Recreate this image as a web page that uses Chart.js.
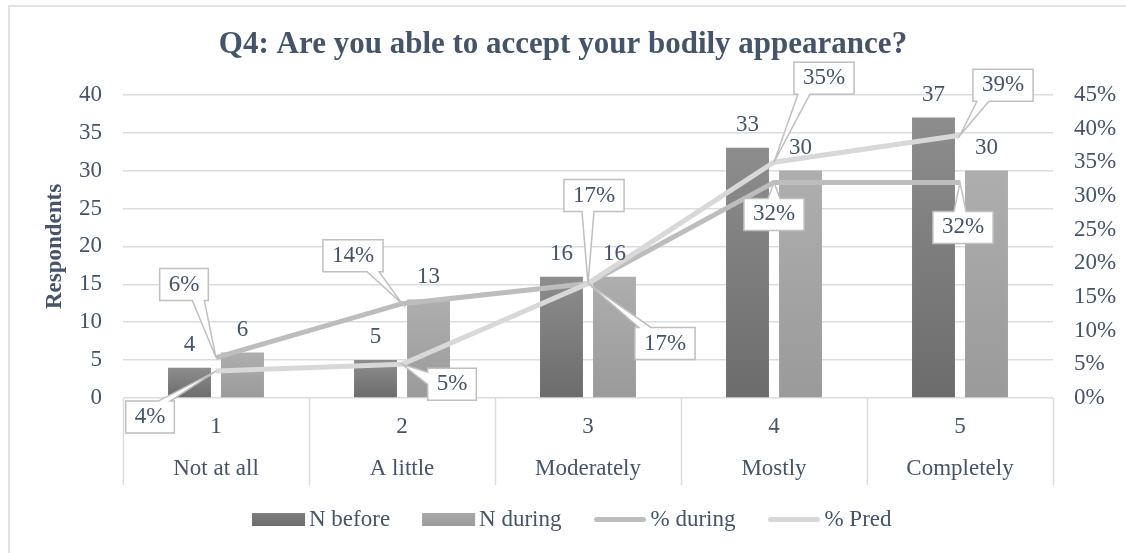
<!DOCTYPE html>
<html>
<head>
<meta charset="utf-8">
<script src="https://cdn.jsdelivr.net/npm/chart.js@4.4.1/dist/chart.umd.min.js"></script>
<style>
  html, body { margin: 0; padding: 0; background: #fff; }
  #wrap { position: relative; width: 1126px; height: 553px; }
</style>
</head>
<body>
<div id="wrap"><canvas id="q4Chart"></canvas></div>
<script>
// answer scale (two-level x axis)
const scalePoints = ['1', '2', '3', '4', '5'];
const answers = ['Not at all', 'A little', 'Moderately', 'Mostly', 'Completely'];

// respondent counts
const nBefore = [4, 5, 16, 33, 37];
const nDuring = [6, 13, 16, 30, 30];

// shares in percent (right axis)
const pctDuring = [6, 14, 17, 32, 32];
const pctPred = [4, 5, 17, 35, 39];

const countAxis = { min: 0, max: 40, step: 5 };
const pctAxis = { min: 0, max: 45, step: 5 };

// callout box centre relative to its point, px
const duringCallouts = [[-32, -73], [-49, -48], [6, -88], [0, 32], [3, 45]];
const predCallouts = [[-66, 46], [50, 20], [77, 60], [50, -84], [43, -50]];

const FONT = '"Liberation Serif", "Times New Roman", serif';
const INK = '#44546a';
const GRID = '#d9dde3';

Chart.defaults.font.family = FONT;
Chart.defaults.font.size = 23;
Chart.defaults.color = INK;

// vertical gradient for each bar, from its top down to the baseline
function barShade(topColor, bottomColor) {
    return (ctx) => {
        const chart = ctx.chart;
        if (ctx.type !== 'data' || !chart.chartArea) return bottomColor;
        const y = chart.scales.y;
        const top = y.getPixelForValue(ctx.parsed.y);
        const base = y.getPixelForValue(0);
        if (!(base > top)) return topColor;
        const g = chart.ctx.createLinearGradient(0, top, 0, base);
        g.addColorStop(0, topColor);
        g.addColorStop(1, bottomColor);
        return g;
    };
}

function drawCallout(ctx, px, py, cx, cy, text) {
    const w = ctx.measureText(text).width + 18;
    const h = 32;
    const l = cx - w / 2, r = cx + w / 2, t = cy - h / 2, b = cy + h / 2;
    const rx = (px - cx) / (w / 2), ry = (py - cy) / (h / 2);
    const half = 6;
    const ax = Math.min(Math.max(px, l + 10), r - 10);
    const ay = Math.min(Math.max(py, t + 10), b - 10);
    const vertical = Math.abs(ry) >= Math.abs(rx);
    const pts = [[l, t]];
    if (vertical && ry < 0) pts.push([ax - half, t], [px, py], [ax + half, t]);
    pts.push([r, t]);
    if (!vertical && rx > 0) pts.push([r, ay - half], [px, py], [r, ay + half]);
    pts.push([r, b]);
    if (vertical && ry > 0) pts.push([ax + half, b], [px, py], [ax - half, b]);
    pts.push([l, b]);
    if (!vertical && rx < 0) pts.push([l, ay + half], [px, py], [l, ay - half]);

    ctx.beginPath();
    pts.forEach(([x, y], i) => i ? ctx.lineTo(x, y) : ctx.moveTo(x, y));
    ctx.closePath();
    ctx.fillStyle = '#ffffff';
    ctx.fill();
    ctx.lineWidth = 1.5;
    ctx.strokeStyle = '#bfbfbf';
    ctx.stroke();
    ctx.fillStyle = INK;
    ctx.fillText(text, cx, cy);
}

/* =========================
   plugins
========================= */
const chartFrame = {
    id: 'chartFrame',
    beforeDraw(chart) {
        const { ctx, width, height } = chart;
        ctx.save();
        ctx.fillStyle = '#ffffff';
        ctx.fillRect(0, 0, width, height);
        ctx.strokeStyle = '#dfe2e7';
        ctx.lineWidth = 2;
        ctx.beginPath();
        ctx.moveTo(9, height);
        ctx.lineTo(9, 6);
        ctx.lineTo(width, 6);
        ctx.stroke();
        ctx.restore();
    }
};

// category separators below the plot
const categoryDividers = {
    id: 'categoryDividers',
    beforeDatasetsDraw(chart) {
        const { ctx, scales: { x }, chartArea } = chart;
        ctx.save();
        ctx.strokeStyle = GRID;
        ctx.lineWidth = 1.5;
        ctx.beginPath();
        for (let i = 0; i <= x.ticks.length; i++) {
            const px = Math.round(x.getPixelForValue(i - 0.5)) + 0.5;
            ctx.moveTo(px, chartArea.bottom);
            ctx.lineTo(px, chartArea.bottom + 87);
        }
        ctx.stroke();
        ctx.restore();
    }
};

const valueLabels = {
    id: 'valueLabels',
    afterDatasetsDraw(chart) {
        const { ctx } = chart;
        ctx.save();
        ctx.font = `23px ${FONT}`;
        ctx.textAlign = 'center';
        ctx.textBaseline = 'middle';
        chart.data.datasets.forEach((ds, i) => {
            if (ds.type !== 'bar') return;
            ctx.fillStyle = INK;
            chart.getDatasetMeta(i).data.forEach((bar, j) => ctx.fillText(String(ds.data[j]), bar.x, bar.y - 23));
        });
        chart.data.datasets.forEach((ds, i) => {
            if (ds.type === 'bar') return;
            chart.getDatasetMeta(i).data.forEach((pt, j) => {
                const [dx, dy] = ds.callouts[j];
                drawCallout(ctx, pt.x, pt.y, pt.x + dx, pt.y + dy, ds.data[j] + '%');
            });
        });
        ctx.restore();
    }
};

const bottomLegend = {
    id: 'bottomLegend',
    afterDraw(chart) {
        const { ctx } = chart;
        const y = 519.5;
        let x = 252;
        ctx.save();
        ctx.font = `23px ${FONT}`;
        ctx.textBaseline = 'middle';
        chart.data.datasets.forEach((ds) => {
            if (ds.type === 'bar') {
                const g = ctx.createLinearGradient(0, y - 6.5, 0, y + 6.5);
                g.addColorStop(0, ds.swatch[0]);
                g.addColorStop(1, ds.swatch[1]);
                ctx.fillStyle = g;
                ctx.fillRect(x, y - 6.5, 53, 13);
            } else {
                ctx.strokeStyle = ds.borderColor;
                ctx.lineWidth = 5;
                ctx.lineCap = 'round';
                ctx.beginPath();
                ctx.moveTo(x + 3, y);
                ctx.lineTo(x + 50, y);
                ctx.stroke();
            }
            x += 57;
            ctx.fillStyle = INK;
            ctx.fillText(ds.label, x, y);
            x += ctx.measureText(ds.label).width + 32;
        });
        ctx.restore();
    }
};

/* =========================
   chart
========================= */
new Chart(document.getElementById('q4Chart'), {
    type: 'bar',
    data: {
        labels: scalePoints.map((s, i) => [s, answers[i]]),
        datasets: [
            {
                type: 'bar', label: 'N before', data: nBefore, yAxisID: 'y',
                backgroundColor: barShade('#8d8d8d', '#6c6c6c'), swatch: ['#7e7e7e', '#6c6c6c'],
                categoryPercentage: 0.57, barPercentage: 0.81, order: 2
            },
            {
                type: 'bar', label: 'N during', data: nDuring, yAxisID: 'y',
                backgroundColor: barShade('#aeaeae', '#9a9a9a'), swatch: ['#a8a8a8', '#9a9a9a'],
                categoryPercentage: 0.57, barPercentage: 0.81, order: 2
            },
            {
                type: 'line', label: '% during', data: pctDuring, yAxisID: 'y1',
                borderColor: '#bdbdbd', borderWidth: 5, pointRadius: 0, order: 1,
                callouts: duringCallouts
            },
            {
                type: 'line', label: '% Pred', data: pctPred, yAxisID: 'y1',
                borderColor: '#d8d8d8', borderWidth: 5, pointRadius: 0, order: 0,
                callouts: predCallouts
            }
        ]
    },
    options: {
        responsive: true,
        maintainAspectRatio: false,
        animation: false,
        layout: { padding: 0 },
        plugins: {
            legend: { display: false },
            tooltip: { enabled: false },
            title: {
                display: true,
                text: 'Q4: Are you able to accept your bodily appearance?',
                color: INK,
                font: { size: 31, weight: 'bold', family: FONT, lineHeight: 1.2 },
                padding: { top: 26, bottom: 31.6 }
            }
        },
        scales: {
            x: {
                grid: { display: false, drawTicks: false },
                border: { display: false },
                ticks: { padding: 8, font: { size: 23, lineHeight: 1.83 }, maxRotation: 0, autoSkip: false },
                afterFit: (s) => { s.height = 155; }
            },
            y: {
                position: 'left',
                min: countAxis.min, max: countAxis.max,
                ticks: { stepSize: countAxis.step, padding: 21 },
                grid: { color: GRID, lineWidth: 1.5, drawTicks: false },
                border: { display: false },
                title: {
                    display: true, text: 'Respondents', color: INK,
                    font: { size: 23, weight: 'bold' }, padding: { top: 41.2, bottom: 0 }
                },
                afterFit: (s) => { s.width = 123; }
            },
            y1: {
                position: 'right',
                min: pctAxis.min, max: pctAxis.max,
                ticks: { stepSize: pctAxis.step, padding: 21, callback: (v) => v + '%' },
                grid: { drawOnChartArea: false, drawTicks: false },
                border: { display: false },
                afterFit: (s) => { s.width = 73; }
            }
        }
    },
    plugins: [chartFrame, categoryDividers, valueLabels, bottomLegend]
});
</script>
</body>
</html>
